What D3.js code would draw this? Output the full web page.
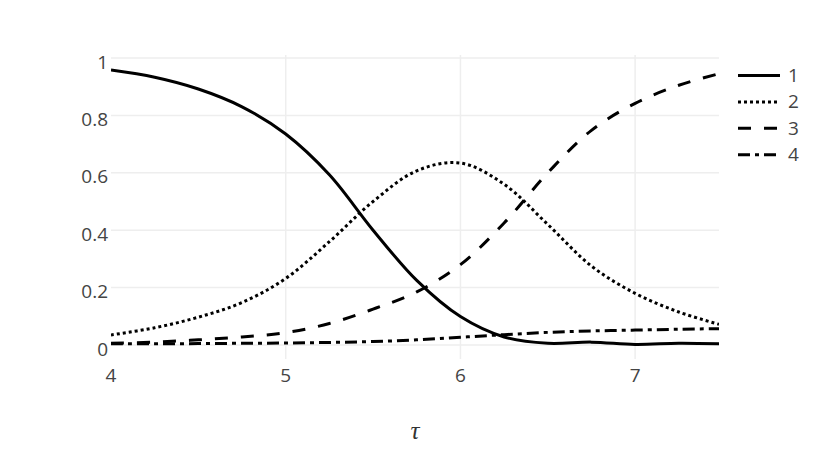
<!DOCTYPE html>
<html>
<head>
<meta charset="utf-8">
<script src="https://cdn.jsdelivr.net/npm/d3@7"></script>
<style>
  body { margin: 0; background: #fff; }
  text { font-family: "Open Sans", sans-serif; }
</style>
</head>
<body>
<div id="chart"></div>
<script>
// values
var tau = [4.0, 4.25, 4.5, 4.75, 5.0, 5.25, 5.5, 5.75, 6.0, 6.25, 6.5, 6.75, 7.0, 7.25, 7.48];
var state1 = [0.958, 0.933, 0.892, 0.830, 0.735, 0.593, 0.400, 0.225, 0.099, 0.028, 0.006, 0.010, 0.002, 0.006, 0.004];
var state2 = [0.035, 0.060, 0.097, 0.148, 0.232, 0.360, 0.500, 0.607, 0.634, 0.560, 0.420, 0.275, 0.180, 0.115, 0.072];
var state3 = [0.006, 0.010, 0.018, 0.028, 0.043, 0.075, 0.125, 0.185, 0.280, 0.425, 0.600, 0.748, 0.842, 0.905, 0.945];
var state4 = [0.004, 0.004, 0.005, 0.006, 0.007, 0.009, 0.012, 0.018, 0.027, 0.036, 0.044, 0.049, 0.052, 0.055, 0.057];
var seriesNames = ["1", "2", "3", "4"];
var xTicks = [4, 5, 6, 7];
var yTicks = [0, 0.2, 0.4, 0.6, 0.8, 1];

var width = 830, height = 471;
var plot = {left: 111, right: 719, top: 55, bottom: 359};

var svg = d3.select("#chart").append("svg")
    .attr("width", width)
    .attr("height", height);

var x = d3.scaleLinear().domain([4, 7.48]).range([plot.left, plot.right]);
var y = d3.scaleLinear().domain([0, 1]).range([345, 58]);

// grid
svg.append("g").selectAll("line")
  .data(yTicks)
  .enter().append("line")
    .attr("x1", plot.left).attr("x2", plot.right)
    .attr("y1", function(d) { return y(d); })
    .attr("y2", function(d) { return y(d); })
    .style("stroke", "#eee")
    .style("stroke-width", 1.5);

svg.append("g").selectAll("line")
  .data(xTicks.slice(1))
  .enter().append("line")
    .attr("x1", function(d) { return x(d); })
    .attr("x2", function(d) { return x(d); })
    .attr("y1", plot.top).attr("y2", plot.bottom)
    .style("stroke", "#eee")
    .style("stroke-width", 1.5);

// tick labels
svg.append("g").selectAll("text")
  .data(yTicks)
  .enter().append("text")
    .attr("x", 108)
    .attr("y", function(d) { return y(d) + 10.5; })
    .attr("text-anchor", "end")
    .style("font-size", "19px")
    .style("fill", "#444")
    .text(function(d) { return d3.format("~g")(d); });

svg.append("g").selectAll("text")
  .data(xTicks)
  .enter().append("text")
    .attr("x", function(d) { return x(d); })
    .attr("y", 382)
    .attr("text-anchor", "middle")
    .style("font-size", "19px")
    .style("fill", "#444")
    .text(function(d) { return d; });

// axis title
svg.append("text")
  .attr("x", 415)
  .attr("y", 439)
  .attr("text-anchor", "middle")
  .style("font-family", "'Liberation Serif', 'DejaVu Serif', serif")
  .style("font-style", "italic")
  .style("font-size", "25px")
  .style("fill", "#333")
  .text("τ");

svg.append("clipPath").attr("id", "clip")
  .append("rect")
    .attr("x", plot.left).attr("y", plot.top)
    .attr("width", plot.right - plot.left)
    .attr("height", plot.bottom - plot.top);

var dashes = [null, "3,3", "13,13", "12,5,4,5"];
var series = [state1, state2, state3, state4];

var line = d3.line()
    .x(function(d) { return x(d[0]); })
    .y(function(d) { return y(d[1]); })
    .curve(d3.curveCatmullRom.alpha(0.5));

var lines = svg.append("g").attr("clip-path", "url(#clip)");
series.forEach(function(vals, i) {
  lines.append("path")
    .datum(d3.zip(tau, vals))
    .attr("d", line)
    .style("fill", "none")
    .style("stroke", "#000")
    .style("stroke-width", 3)
    .style("stroke-dasharray", dashes[i]);
});

// legend
var legend = svg.append("g").selectAll("g")
  .data(seriesNames)
  .enter().append("g")
    .attr("transform", function(d, i) { return "translate(738," + (75.5 + i * 26.4) + ")"; });

legend.append("line")
  .attr("x1", 0).attr("x2", 42)
  .style("stroke", "#000")
  .style("stroke-width", 3)
  .style("stroke-dasharray", function(d, i) { return dashes[i]; });

legend.append("text")
  .attr("x", 50)
  .attr("y", 6.5)
  .style("font-size", "19px")
  .style("fill", "#444")
  .text(function(d) { return d; });
</script>
</body>
</html>
